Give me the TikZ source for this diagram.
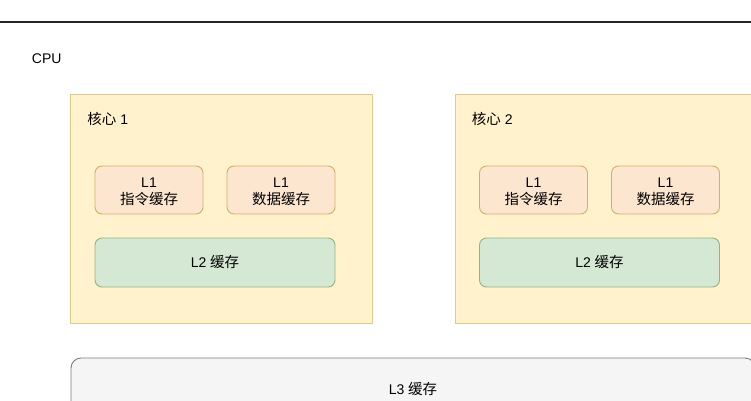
\documentclass[tikz,border=0pt]{standalone}
\usepackage{fontspec}
\setmainfont{Liberation Sans}
\newfontfamily\cjk{Noto Sans CJK SC}
\newcommand{\zh}[1]{{\cjk\fontsize{14.5}{17}\selectfont #1}}
\definecolor{corefill}{HTML}{FFF2CC}
\definecolor{coreline}{HTML}{DDCB8C}
\definecolor{lonefill}{HTML}{FDE6CF}
\definecolor{loneline}{HTML}{D8AE66}
\definecolor{ltwofill}{HTML}{D5E8D4}
\definecolor{ltwoline}{HTML}{92B480}
\definecolor{lthreefill}{HTML}{F5F5F5}
\definecolor{lthreeline}{HTML}{7A7A7A}

\begin{document}
\begin{tikzpicture}[x=1pt, y=-1pt, line width=0.9pt,
  every node/.style={font=\fontsize{14}{17}\selectfont, align=center, inner sep=0pt},
  core/.style={draw=coreline, fill=corefill, minimum width=301.5pt, minimum height=229pt},
  lone/.style={draw=loneline, fill=lonefill, rounded corners=7pt,
    minimum width=108pt, minimum height=48pt},
  ltwo/.style={draw=ltwoline, fill=ltwofill, rounded corners=7pt,
    minimum width=240pt, minimum height=49pt},
  lthree/.style={draw=lthreeline, fill=lthreefill, rounded corners=10pt,
    minimum width=684pt, minimum height=62pt}]
  \clip (0,0) rectangle (751,400);
  \draw[line width=1.3pt, black!85] (0,22) -- (751,22);
  \node (cpu) at (46.7,59) {CPU};
  \foreach \c/\x in {1/221.25, 2/605.75} {
    \node[core] (core\c) at (\x,208.5) {};
    \node[anchor=west] (name\c) at ({\x-134.25},119) {\zh{核心} \c};
    \node[lone] (inst\c) at ({\x-72.25},190) {};
    \node (insttext\c) at (inst\c.center) [yshift=-2pt] {L1\\\zh{指令缓存}};
    \node[lone] (data\c) at ({\x+59.75},190) {};
    \node (datatext\c) at (data\c.center) [yshift=-2pt] {L1\\\zh{数据缓存}};
    \node[ltwo] (ltwo\c) at ({\x-6.25},262.5) {L2 \zh{缓存}};
  }
  \node[lthree] (lthree) at (413,389) {L3 \zh{缓存}};
\end{tikzpicture}
\end{document}
